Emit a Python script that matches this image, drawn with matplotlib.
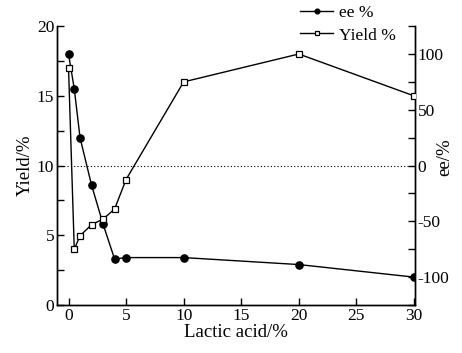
import matplotlib
matplotlib.use("Agg")
import matplotlib.pyplot as plt
from matplotlib.ticker import MultipleLocator

plt.rcParams['font.family'] = ['Liberation Serif', 'DejaVu Serif']
plt.rcParams['axes.unicode_minus'] = False

lactic = [0, 0.5, 1, 2, 3, 4, 5, 10, 20, 30]
ee_left = [18.0, 15.5, 12.0, 8.6, 5.8, 3.3, 3.4, 3.4, 2.9, 2.0]
yield_right = [87.5, -75, -63, -53, -48, -39, -12.5, 75, 100, 62.5]
x_ticks = [0, 5, 10, 15, 20, 25, 30]
left_ticks = [0, 5, 10, 15, 20]
right_ticks = [-100, -50, 0, 50, 100]

fig = plt.figure(figsize=(4.62, 3.53), dpi=100)
ax = fig.add_axes([0.1234, 0.136, 0.775, 0.79])
ax2 = ax.twinx()

l1, = ax.plot(lactic, ee_left, '-', color='black', lw=1.0, marker='o',
              ms=5.2, mfc='black', mec='black', label='ee %', zorder=3)
l2, = ax2.plot(lactic, yield_right, '-', color='black', lw=1.0, marker='s',
               ms=4.6, mfc='white', mec='black', mew=0.9, label='Yield %', zorder=3)
ax2.axhline(0, color='black', ls=(0, (1, 2)), lw=0.8)

ax.set_xlim(-1, 30.1)
ax.set_ylim(0, 20)
ax2.set_ylim(-125, 125)
ax.set_xticks(x_ticks)
ax.set_yticks(left_ticks)
ax2.set_yticks(right_ticks)
ax.yaxis.set_minor_locator(MultipleLocator(2.5))
ax2.yaxis.set_minor_locator(MultipleLocator(25))

for a in (ax, ax2):
    a.spines['top'].set_visible(False)
    for s in a.spines.values():
        s.set_linewidth(1.0)
    a.tick_params(which='both', direction='in', length=5, width=1, labelsize=12.5, pad=2)

ax.set_xlabel('Lactic acid/%', fontsize=13.5, labelpad=0)
ax.set_ylabel('Yield/%', fontsize=13.5, labelpad=2)
fig.text(445 / 462, 1 - 157 / 353, 'ee/%', rotation=90, fontsize=13.5,
         ha='center', va='center')

leg = fig.legend(handles=[l1, l2], loc='upper left', bbox_to_anchor=(0.635, 1.005),
                 frameon=False, fontsize=12.5, markerscale=0.65, handlelength=1.9,
                 handletextpad=0.3, labelspacing=0.35, borderaxespad=0)

fig.savefig('out.png', dpi=100)
